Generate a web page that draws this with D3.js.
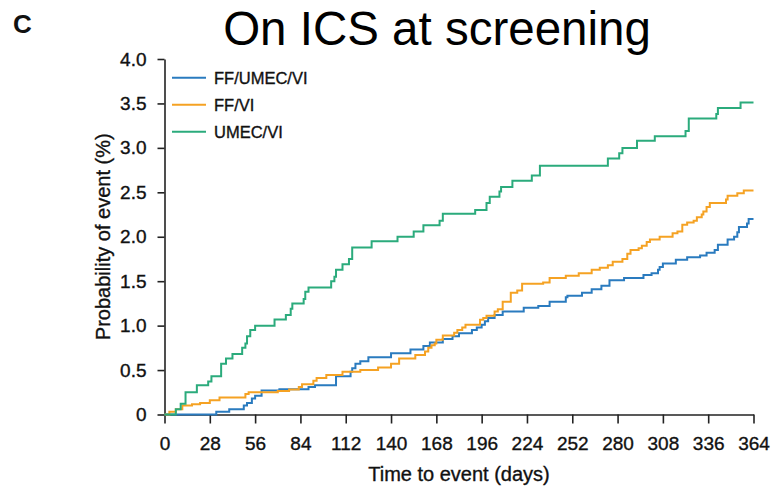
<!DOCTYPE html>
<html>
<head>
<meta charset="utf-8">
<script src="https://cdn.jsdelivr.net/npm/d3@7"></script>
<style>
  html, body { margin: 0; padding: 0; background: #fff; }
  svg { display: block; font-family: "Liberation Sans", Arial, Helvetica, sans-serif; }
</style>
</head>
<body>
<svg id="chart" width="771" height="486"></svg>
<script>
// Kaplan–Meier style cumulative event curves: [day, probability of event (%)]
const seriesNames = ["FF/UMEC/VI", "FF/VI", "UMEC/VI"];
const seriesColors = ["#2a7bbf", "#f5a223", "#2bab7c"];

const ffUmecVi = [
  [0,0],[32,0.03],[40,0.06],[49,0.10],[51,0.13],[54,0.18],[56,0.21],[60,0.27],[71,0.285],
  [89,0.31],[93,0.33],[106,0.43],[115,0.48],[116,0.52],[118,0.57],[121,0.60],[126,0.645],
  [140,0.69],[152,0.73],[160,0.77],[164,0.81],[172,0.85],[178,0.88],[182,0.915],[190,0.95],
  [193,0.98],[196,1.01],[198,1.05],[200,1.085],[204,1.12],[209,1.16],[222,1.20],[231,1.22],
  [238,1.27],[248,1.32],[249,1.335],[258,1.37],[264,1.41],[270,1.45],[275,1.51],[284,1.535],
  [296,1.57],[301,1.59],[305,1.63],[306,1.66],[308,1.70],[316,1.74],[323,1.77],[331,1.79],
  [335,1.82],[340,1.85],[342,1.91],[348,1.97],[352,2.0],[354,2.05],[355,2.11],[360,2.15],
  [361,2.2],[364,2.2]
];

const ffVi = [
  [0,0],[3,0.03],[7,0.06],[11,0.10],[17,0.115],[22,0.13],[28,0.16],[34,0.19],[50,0.23],
  [52,0.25],[70,0.265],[77,0.28],[83,0.31],[85,0.34],[92,0.38],[94,0.41],[100,0.445],
  [110,0.48],[121,0.50],[132,0.53],[140,0.57],[145,0.63],[155,0.67],[161,0.71],[163,0.75],
  [165,0.78],[167,0.80],[168,0.84],[172,0.89],[179,0.92],[181,0.95],[184,0.98],[186,1.01],
  [195,1.065],[197,1.085],[199,1.11],[204,1.16],[206,1.185],[209,1.27],[214,1.37],
  [218,1.395],[221,1.47],[234,1.485],[238,1.535],[248,1.56],[256,1.59],[264,1.63],
  [269,1.65],[274,1.68],[277,1.72],[283,1.75],[286,1.81],[288,1.85],[293,1.87],[295,1.90],
  [298,1.94],[300,1.97],[306,2.0],[314,2.04],[317,2.06],[320,2.135],[323,2.16],[327,2.18],
  [329,2.22],[332,2.25],[333,2.285],[335,2.335],[337,2.38],[347,2.42],[348,2.46],
  [354,2.49],[358,2.52],[364,2.52]
];

const umecVi = [
  [0,0],[7,0.06],[10,0.12],[13,0.25],[20,0.33],[27,0.37],[29,0.43],[35,0.57],[38,0.63],
  [42,0.68],[48,0.75],[50,0.80],[51,0.88],[53,0.95],[56,1.0],[68,1.07],[75,1.12],[78,1.19],
  [79,1.25],[86,1.30],[87,1.38],[89,1.43],[103,1.50],[105,1.55],[106,1.63],[110,1.69],
  [114,1.75],[116,1.88],[128,1.95],[144,2.0],[154,2.06],[160,2.13],[170,2.18],[172,2.26],
  [192,2.30],[199,2.38],[201,2.45],[207,2.51],[208,2.56],[215,2.63],[227,2.69],[232,2.80],
  [274,2.88],[281,2.94],[283,3.0],[292,3.08],[303,3.13],[322,3.19],[324,3.33],[341,3.38],
  [342,3.45],[356,3.51],[364,3.51]
];

const xTicks = [0, 28, 56, 84, 112, 140, 168, 196, 224, 252, 280, 308, 336, 364];
const yTicks = [0, 0.5, 1.0, 1.5, 2.0, 2.5, 3.0, 3.5, 4.0];
const yTickLabels = ["0", "0.5", "1.0", "1.5", "2.0", "2.5", "3.0", "3.5", "4.0"];

const allSeries = [ffUmecVi, ffVi, umecVi];

const svg = d3.select("#chart");
const plotLeft = 164.5, plotRight = 753.5, plotTop = 59, plotBottom = 414.5;

const x = d3.scaleLinear().domain([0, 364]).range([plotLeft, plotRight]);
const y = d3.scaleLinear().domain([0, 4]).range([plotBottom, plotTop]);

// heavier text rendering for labels
const inkText = sel => sel.attr("fill", "#111").attr("stroke", "#111").attr("stroke-width", 0.35);

// panel letter and title
svg.append("text").attr("x", 13).attr("y", 33)
  .attr("font-size", 26).attr("font-weight", "bold").attr("fill", "#111").text("C");
svg.append("text").attr("x", 437).attr("y", 45).attr("text-anchor", "middle")
  .attr("font-size", 47.5).attr("fill", "#000").text("On ICS at screening");

// axes
const axisColor = "#222";
const xAxis = svg.append("g").attr("transform", `translate(0,${plotBottom})`)
  .call(d3.axisBottom(x).tickValues(xTicks).tickSizeInner(9).tickSizeOuter(0).tickPadding(13));
const yAxis = svg.append("g").attr("transform", `translate(${plotLeft},0)`)
  .call(d3.axisLeft(y).tickValues(yTicks).tickFormat((d, i) => yTickLabels[i])
    .tickSizeInner(7).tickSizeOuter(0).tickPadding(11));

[xAxis, yAxis].forEach(g => {
  g.selectAll("path.domain").attr("stroke", axisColor).attr("stroke-width", 1.6);
  g.selectAll(".tick line").attr("stroke", axisColor).attr("stroke-width", 1.6);
  g.selectAll(".tick text")
    .attr("font-size", 19)
    .attr("font-family", '"Liberation Sans", Arial, Helvetica, sans-serif')
    .call(inkText);
});

// axis titles
svg.append("text").attr("x", (plotLeft + plotRight) / 2).attr("y", 481)
  .attr("text-anchor", "middle").attr("font-size", 20)
  .text("Time to event (days)").call(inkText);
svg.append("text")
  .attr("transform", `translate(110,${(plotTop + plotBottom) / 2}) rotate(-90)`)
  .attr("text-anchor", "middle").attr("font-size", 20)
  .text("Probability of event (%)").call(inkText);

// step curves
const line = d3.line().x(d => x(d[0])).y(d => y(d[1])).curve(d3.curveStepAfter);
allSeries.forEach((data, i) => {
  svg.append("path").datum(data)
    .attr("fill", "none")
    .attr("stroke", seriesColors[i])
    .attr("stroke-width", 2)
    .attr("d", line);
});

// legend
const legend = svg.append("g");
seriesNames.forEach((name, i) => {
  const ly = 77.7 + i * 27;
  legend.append("line").attr("x1", 172).attr("x2", 206).attr("y1", ly).attr("y2", ly)
    .attr("stroke", seriesColors[i]).attr("stroke-width", 2);
  legend.append("text").attr("x", 214).attr("y", ly).attr("dy", "0.36em")
    .attr("font-size", 16.5).text(name).call(inkText);
});
</script>
</body>
</html>
